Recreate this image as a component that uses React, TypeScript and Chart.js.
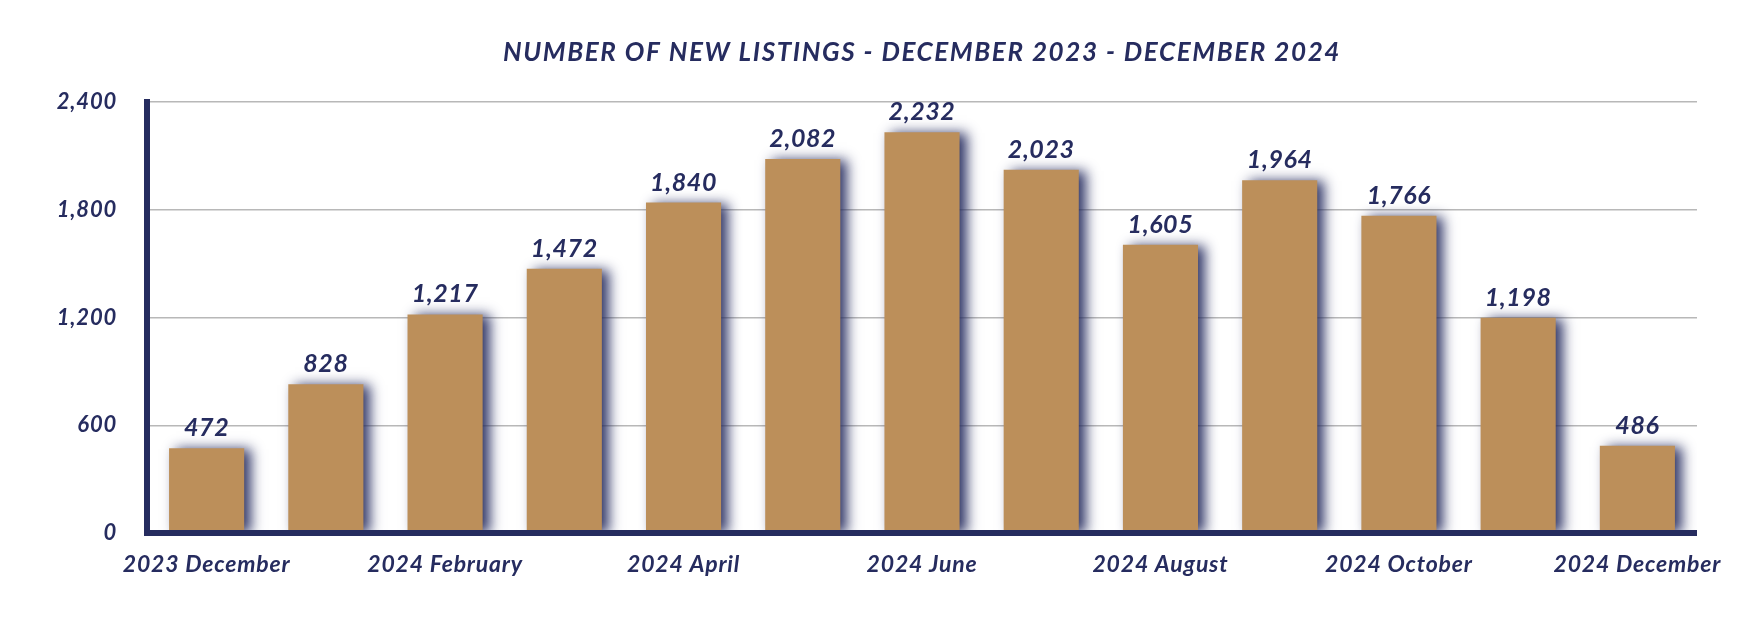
import React, { useEffect, useRef } from "react";
import { Chart, registerables } from "chart.js";

Chart.register(...registerables);

const categories = [
  "2023 December",
  "2024 January",
  "2024 February",
  "2024 March",
  "2024 April",
  "2024 May",
  "2024 June",
  "2024 July",
  "2024 August",
  "2024 September",
  "2024 October",
  "2024 November",
  "2024 December",
];
const newListings = [472, 828, 1217, 1472, 1840, 2082, 2232, 2023, 1605, 1964, 1766, 1198, 486];
const yTicks = [0, 600, 1200, 1800, 2400];
const titleText = "NUMBER OF NEW LISTINGS - DECEMBER 2023 - DECEMBER 2024";

const NAVY = "#262c5f";
const GOLD = "#bc8f5a";
const FONT = "Lato";

const fmt = (v: number) => v.toLocaleString("en-US");

const decorPlugin = {
  id: "decor",
  beforeLayout(chart: any) {
    (chart.ctx as any).letterSpacing = "0.8px";
  },
  beforeDraw(chart: any) {
    (chart.ctx as any).letterSpacing = "0.8px";
  },
  beforeDatasetsDraw(chart: any) {
    const ctx = chart.ctx;
    ctx.save();
    ctx.shadowColor = "rgba(37,43,95,0.95)";
    ctx.shadowBlur = 12;
    ctx.shadowOffsetX = 7;
    ctx.shadowOffsetY = 1;
  },
  afterDatasetsDraw(chart: any) {
    const ctx = chart.ctx;
    ctx.restore();
    const { left, right, top, bottom } = chart.chartArea;
    ctx.save();
    ctx.fillStyle = NAVY;
    ctx.fillRect(left - 3, top - 3, 6, bottom - top + 6);
    ctx.fillRect(left - 3, bottom - 3, right - left + 3, 6);
    ctx.restore();
    ctx.save();
    ctx.fillStyle = NAVY;
    ctx.font = `italic bold 25px ${FONT}`;
    (ctx as any).letterSpacing = "0.6px";
    ctx.textAlign = "center";
    ctx.textBaseline = "alphabetic";
    const meta = chart.getDatasetMeta(0);
    meta.data.forEach((bar: any, i: number) => {
      ctx.fillText(fmt(newListings[i]), bar.x, bar.y - 12);
    });
    ctx.restore();
    ctx.save();
    ctx.fillStyle = NAVY;
    ctx.font = `italic bold 26px ${FONT}`;
    (ctx as any).letterSpacing = "1.6px";
    ctx.textAlign = "center";
    ctx.textBaseline = "middle";
    ctx.fillText(titleText, (left + right) / 2, 53);
    ctx.restore();
  },
};

export default function App() {
  const ref = useRef<HTMLCanvasElement | null>(null);
  useEffect(() => {
    if (!ref.current) return;
    const chart = new Chart(ref.current, {
      type: "bar",
      data: {
        labels: categories,
        datasets: [
          {
            label: "New Listings",
            data: newListings,
            backgroundColor: GOLD,
            borderWidth: 0,
            barPercentage: 0.63,
            categoryPercentage: 1,
          },
        ],
      },
      options: {
        animation: false,
        responsive: false,
        maintainAspectRatio: false,
        layout: { padding: { top: 102, right: 53, left: 0, bottom: 0 } },
        plugins: {
          legend: { display: false },
          title: { display: false },
          tooltip: { enabled: false },
        },
        scales: {
          x: {
            grid: { display: false },
            border: { display: false },
            ticks: {
              autoSkip: false,
              maxRotation: 0,
              padding: 10,
              color: NAVY,
              font: { family: FONT, size: 23, weight: "bold", style: "italic" },
              callback: (_v: any, i: number) => (i % 2 === 0 ? categories[i] : ""),
            },
            afterFit: (s: any) => {
              s.height = 95;
            },
          },
          y: {
            min: 0,
            max: 2400,
            afterBuildTicks: (s: any) => {
              s.ticks = yTicks.map((v) => ({ value: v }));
            },
            grid: { color: "#b8b8b8", lineWidth: 1.5, drawTicks: false },
            border: { display: false },
            ticks: {
              padding: 30,
              color: NAVY,
              font: { family: FONT, size: 22, weight: "bold", style: "italic" },
              callback: (v: any) => fmt(Number(v)),
            },
            afterFit: (s: any) => {
              s.width = 147;
            },
          },
        },
      },
      plugins: [decorPlugin],
    });
    return () => chart.destroy();
  }, []);
  return (
    <div style={{ position: "absolute", left: 0, top: 0, width: 1750, height: 628, background: "#fff" }}>
      <canvas ref={ref} width={1750} height={628} style={{ width: 1750, height: 628, display: "block" }} />
    </div>
  );
}
